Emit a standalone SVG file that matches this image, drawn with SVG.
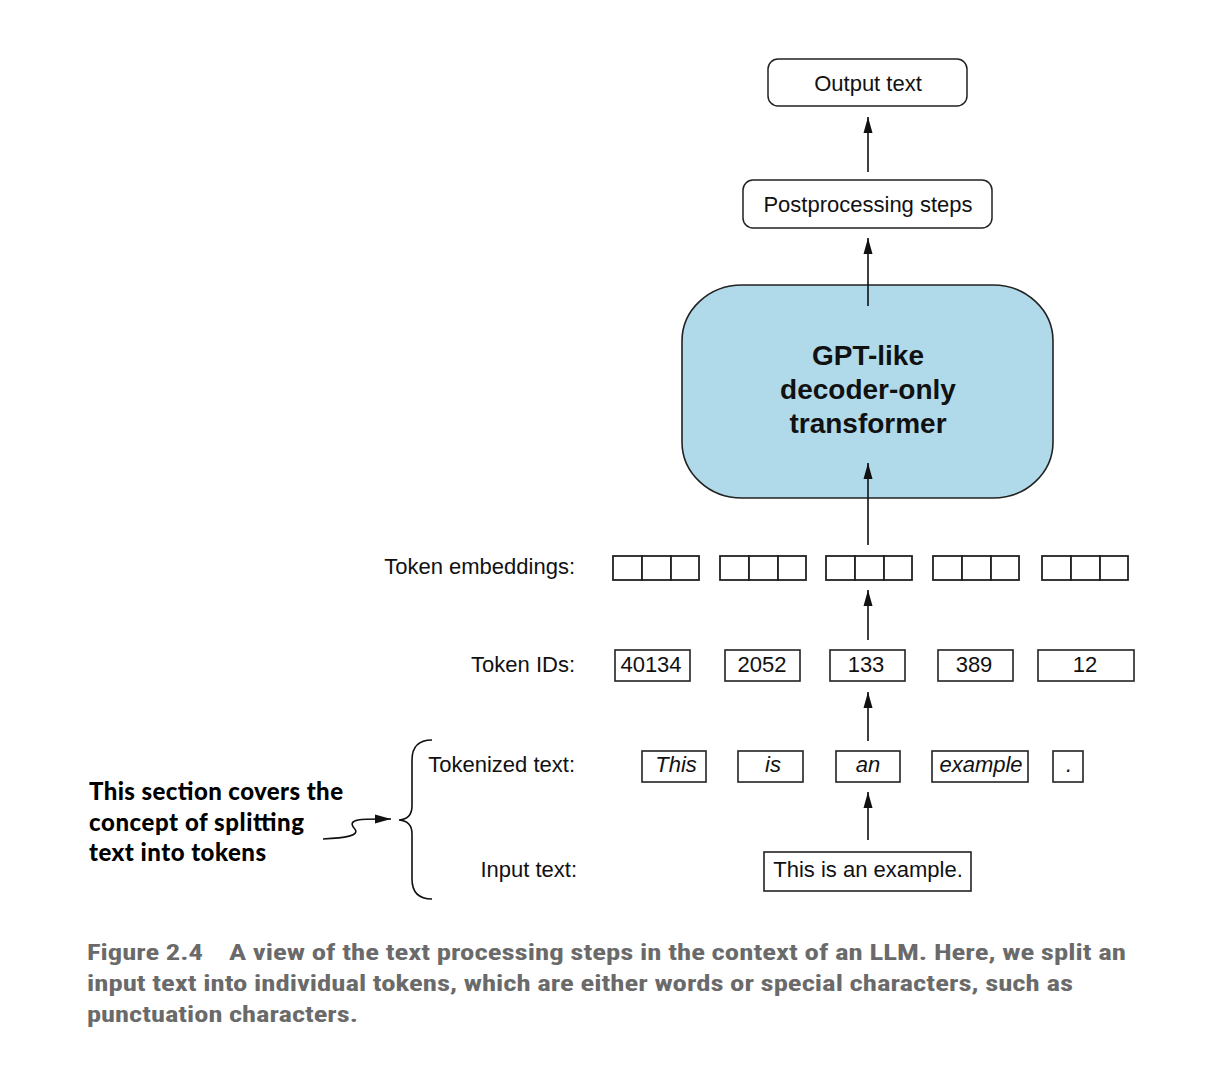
<svg xmlns="http://www.w3.org/2000/svg" width="1212" height="1065" viewBox="0 0 1212 1065">
<defs>
<marker id="ah" markerUnits="userSpaceOnUse" markerWidth="18" markerHeight="10" refX="16" refY="5" orient="auto">
<path d="M0,0.5 L16,5 L0,9.5 z" fill="#111"/>
</marker>
<style>
.t{font-family:"Liberation Sans",Arial,sans-serif;font-size:22px;fill:#111}
.c{text-anchor:middle}
.r{text-anchor:end}
.i{font-style:italic}
.b{font-weight:bold;font-size:28px}
.box{fill:#fff;stroke:#222;stroke-width:1.6}
.rbox{fill:#fff;stroke:#222;stroke-width:1.5}
.cell{fill:#fff;stroke:#222;stroke-width:1.8}
.ln{stroke:#111;stroke-width:1.6;fill:none}
.ann{font-family:Lato,"Open Sans",sans-serif;font-weight:900;font-size:24px;fill:#000}
.cap{font-family:"Liberation Sans Narrow","Roboto Condensed",Roboto,sans-serif;font-weight:bold;font-size:22px;fill:#6a6a6a}
</style>
</defs>
<rect width="1212" height="1065" fill="#fff"/>

<g id="output-text">
<rect class="rbox" x="768" y="59" width="199" height="47" rx="10"/>
<text class="t c" x="868" y="91">Output text</text>
</g>
<g id="postprocessing">
<rect class="rbox" x="743" y="180" width="249" height="48" rx="10"/>
<text class="t c" x="868" y="212">Postprocessing steps</text>
</g>
<g id="gpt">
<rect x="682" y="285" width="371" height="213" rx="60" ry="56" fill="#b0daea" stroke="#222" stroke-width="1.6"/>
<text class="t c b" x="868" y="365">GPT-like</text>
<text class="t c b" x="868" y="399">decoder-only</text>
<text class="t c b" x="868" y="433">transformer</text>
</g>

<g id="token-embeddings">
<text class="t r" x="575" y="574">Token embeddings:</text>
<rect class="cell" x="613" y="556" width="29" height="24"/><rect class="cell" x="642" y="556" width="29" height="24"/><rect class="cell" x="671" y="556" width="28" height="24"/>
<rect class="cell" x="720" y="556" width="29" height="24"/><rect class="cell" x="749" y="556" width="29" height="24"/><rect class="cell" x="778" y="556" width="28" height="24"/>
<rect class="cell" x="826" y="556" width="29" height="24"/><rect class="cell" x="855" y="556" width="29" height="24"/><rect class="cell" x="884" y="556" width="28" height="24"/>
<rect class="cell" x="933" y="556" width="29" height="24"/><rect class="cell" x="962" y="556" width="29" height="24"/><rect class="cell" x="991" y="556" width="28" height="24"/>
<rect class="cell" x="1042" y="556" width="29" height="24"/><rect class="cell" x="1071" y="556" width="29" height="24"/><rect class="cell" x="1100" y="556" width="28" height="24"/>
</g>

<g id="token-ids">
<text class="t r" x="575" y="672">Token IDs:</text>
<rect class="box" x="615" y="650" width="75" height="31"/><text class="t c" x="651" y="672">40134</text>
<rect class="box" x="725" y="650" width="75" height="31"/><text class="t c" x="762" y="672">2052</text>
<rect class="box" x="830" y="650" width="75" height="31"/><text class="t c" x="866" y="672">133</text>
<rect class="box" x="938" y="650" width="75" height="31"/><text class="t c" x="974" y="672">389</text>
<rect class="box" x="1038" y="650" width="96" height="31"/><text class="t c" x="1085" y="672">12</text>
</g>

<g id="tokenized-text">
<text class="t r" x="575" y="772">Tokenized text:</text>
<rect class="box" x="642" y="751" width="64" height="31"/><text class="t c i" x="676" y="772">This</text>
<rect class="box" x="738" y="751" width="65" height="31"/><text class="t c i" x="773" y="772">is</text>
<rect class="box" x="836" y="751" width="64" height="31"/><text class="t c i" x="868" y="772">an</text>
<rect class="box" x="932" y="751" width="96" height="31"/><text class="t c i" x="981" y="772">example</text>
<rect class="box" x="1053" y="751" width="30" height="31"/><text class="t c i" x="1069" y="772">.</text>
</g>

<g id="input-text">
<text class="t r" x="577" y="877">Input text:</text>
<rect class="box" x="764" y="852" width="207" height="39"/>
<text class="t c" x="868" y="877">This is an example.</text>
</g>

<g id="annotation">
<path class="ln" d="M432,740 Q412,740 412,760 L412,806 Q412,819 399,820 Q412,821 412,834 L412,879 Q412,899 432,899"/>
<text class="ann" x="89" y="800" textLength="254">This section covers the</text>
<text class="ann" x="89" y="831" textLength="215">concept of splitting</text>
<text class="ann" x="89" y="861" textLength="177">text into tokens</text>
</g>

<g id="connectors">
<line class="ln" x1="868" y1="172" x2="868" y2="117" marker-end="url(#ah)"/>
<line class="ln" x1="868" y1="306" x2="868" y2="238" marker-end="url(#ah)"/>
<line class="ln" x1="868" y1="545" x2="868" y2="463" marker-end="url(#ah)"/>
<line class="ln" x1="868" y1="640" x2="868" y2="590" marker-end="url(#ah)"/>
<line class="ln" x1="868" y1="741" x2="868" y2="692" marker-end="url(#ah)"/>
<line class="ln" x1="868" y1="840" x2="868" y2="792" marker-end="url(#ah)"/>
<path class="ln" d="M323,839 C343,838 362,836 354,828 C346,818 365,819 391,819" marker-end="url(#ah)"/>
</g>

<g id="caption">
<text class="cap" x="87" y="960" textLength="116" lengthAdjust="spacingAndGlyphs">Figure 2.4</text>
<text class="cap" x="229" y="960" textLength="897" lengthAdjust="spacingAndGlyphs">A view of the text processing steps in the context of an LLM. Here, we split an</text>
<text class="cap" x="87" y="991" textLength="986" lengthAdjust="spacingAndGlyphs">input text into individual tokens, which are either words or special characters, such as</text>
<text class="cap" x="87" y="1022" textLength="271" lengthAdjust="spacingAndGlyphs">punctuation characters.</text>
</g>
</svg>
